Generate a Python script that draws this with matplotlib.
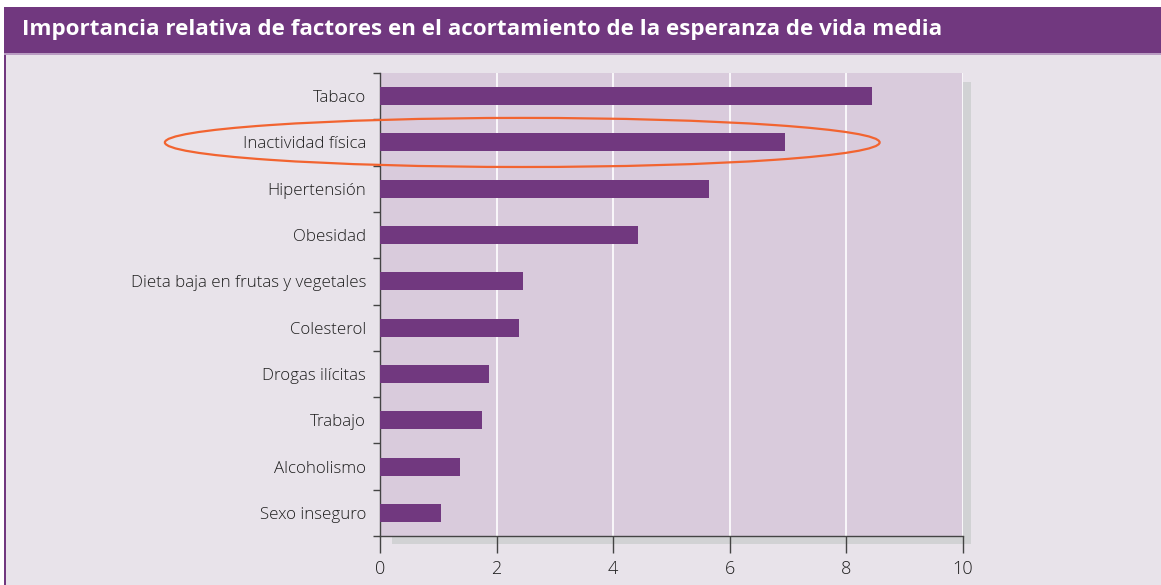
import matplotlib
matplotlib.use("Agg")
import matplotlib.pyplot as plt
from matplotlib.patches import Rectangle, Ellipse
import numpy as np

factores = ["Tabaco", "Inactividad física", "Hipertensión", "Obesidad",
            "Dieta baja en frutas y vegetales", "Colesterol", "Drogas ilícitas",
            "Trabajo", "Alcoholismo", "Sexo inseguro"]
valores = [8.44, 6.95, 5.64, 4.42, 2.45, 2.38, 1.87, 1.75, 1.37, 1.05]
xticks = [0, 2, 4, 6, 8, 10]
titulo = "Importancia relativa de factores en el acortamiento de la esperanza de vida media"

purple = "#71387f"
bg_out = "#e8e3ea"
bg_plot = "#d9cbdc"
shadow = "#d1d2d4"
W, H = 1161, 585

plt.rcParams['font.family'] = ['Open Sans', 'DejaVu Sans']

fig = plt.figure(figsize=(W / 100, H / 100), dpi=100)
fig.patch.set_facecolor("white")

def fr(x0, y0, x1, y1, **kw):
    # rectangle in pixel coords (y from top)
    return Rectangle((x0 / W, 1 - y1 / H), (x1 - x0) / W, (y1 - y0) / H,
                     transform=fig.transFigure, **kw)

fig.patches.append(fr(5, 53, W, H, facecolor=bg_out, edgecolor="none", zorder=0))
fig.patches.append(fr(4, 53, 6, H, facecolor=purple, edgecolor="none", zorder=1))
fig.patches.append(fr(4, 7, W, 53, facecolor=purple, edgecolor="none", zorder=1))
fig.patches.append(fr(4, 53, W, 54.5, facecolor="#b99cc2", edgecolor="none", zorder=1))
fig.patches.append(fr(392, 82, 971, 544, facecolor=shadow, edgecolor="none", zorder=2))
fig.text(22 / W, 1 - 30 / H, titulo, color="white", fontsize=16.1,
         fontweight="bold", va="center", ha="left")

ax = fig.add_axes([380 / W, 1 - 536 / H, (963 - 380) / W, (536 - 73) / H])
ax.set_facecolor(bg_plot)
ax.set_zorder(3)

y = np.arange(len(factores))
ax.barh(y, valores, height=0.39, color=purple, zorder=3)
ax.set_xlim(0, 10)
ax.set_ylim(len(factores) - 0.5, -0.5)

ax.set_xticks(xticks)
ax.set_xticklabels([str(t) for t in xticks])
ax.set_yticks(y)
ax.set_yticklabels(factores, fontweight="light")
ax.set_yticks(np.arange(len(factores) + 1) - 0.5, minor=True)
ax.tick_params(axis="y", which="major", length=0, pad=10, labelsize=12.2,
               labelcolor="#1e1e1e")
ax.tick_params(axis="y", which="minor", length=5, width=1, color="#444444")
ax.tick_params(axis="x", length=12, width=1, color="#444444", pad=5,
               labelsize=13, labelcolor="#1e1e1e")
for lbl in ax.get_xticklabels():
    lbl.set_fontweight("light")

for s in ["top", "right"]:
    ax.spines[s].set_visible(False)
for s in ["left", "bottom"]:
    ax.spines[s].set_color("#444444")
    ax.spines[s].set_linewidth(1)

ax.grid(axis="x", color="white", linewidth=1.2, zorder=1)
ax.set_axisbelow(True)

ell = Ellipse((2.44, 1), width=12.26, height=1.06, fill=False,
              edgecolor="#f26430", linewidth=1.6, clip_on=False, zorder=5)
ax.add_patch(ell)

fig.savefig("out.png", dpi=100, facecolor=fig.get_facecolor())
